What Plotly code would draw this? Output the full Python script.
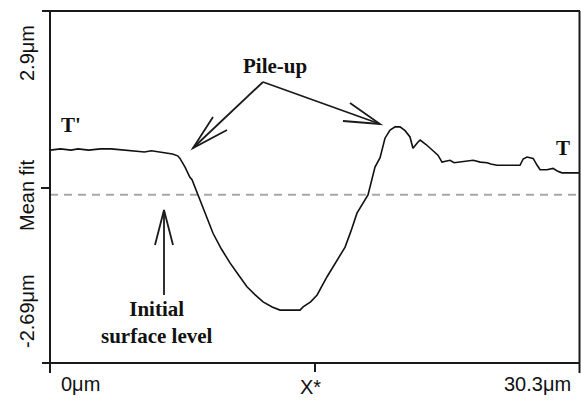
import plotly.graph_objects as go

# ---- data (micrometres) ----
X_UM = [0.0, 0.6, 1.2, 1.6, 2.2, 2.9, 3.5, 4.3, 5.0, 5.4, 5.8, 6.2, 6.6, 7.0, 7.3,
        7.43, 7.72, 8.0, 8.12, 8.46, 8.9, 9.32, 9.8, 10.29, 10.8, 11.26, 11.7,
        12.18, 12.7, 13.15, 14.29, 14.47, 14.9, 15.27, 15.84, 16.3, 16.87, 17.2,
        17.55, 18.18, 18.58, 18.87, 19.15, 19.44, 19.73, 20.01, 20.3, 20.58,
        20.75, 21.04, 21.16, 21.5, 21.73, 21.9, 22.18, 22.41, 22.87, 23.1, 23.44,
        24.19, 24.6, 24.99, 25.2, 25.56, 26.87, 27.05, 27.27, 27.62, 27.85,
        28.02, 28.4, 28.76, 29.0, 29.27, 30.3]
Y_UM = [0.69, 0.71, 0.69, 0.71, 0.69, 0.71, 0.71, 0.69, 0.67, 0.66, 0.68, 0.66,
        0.64, 0.63, 0.60, 0.56, 0.42, 0.26, 0.22, -0.02, -0.32, -0.63, -0.88,
        -1.10, -1.30, -1.48, -1.60, -1.72, -1.80, -1.85, -1.85, -1.80, -1.72,
        -1.61, -1.32, -1.10, -0.85, -0.60, -0.31, -0.02, 0.42, 0.57, 0.88, 1.01,
        1.06, 1.06, 1.00, 0.90, 0.72, 0.82, 0.85, 0.78, 0.72, 0.69, 0.61, 0.50,
        0.53, 0.49, 0.50, 0.53, 0.50, 0.49, 0.47, 0.45, 0.45, 0.55, 0.58, 0.56,
        0.45, 0.38, 0.38, 0.40, 0.36, 0.33, 0.33]

X_RANGE = [0.0, 30.3]
Y_RANGE = [-2.69, 2.9]
SURFACE_LEVEL = -0.02
MEAN_FIT = 0.09
X_MID = 15.15
Y_TICK_LABELS = ["2.9μm", "Mean fit", "-2.69μm"]
X_TICK_LABELS = ["0μm", "X*", "30.3μm"]
NOTE_LABELS = ["T'", "T", "Pile-up", "Initial<br>surface level"]

W, H = 581, 400
ML, MR, MT, MB = 50, 1, 11, 37
PW, PH = W - ML - MR, H - MT - MB


def px(xp):
    return (xp - ML) / PW


def py(yp):
    return (H - MB - yp) / PH


fig = go.Figure()
fig.add_trace(go.Scatter(x=X_RANGE, y=[SURFACE_LEVEL, SURFACE_LEVEL], mode="lines",
                         line=dict(color="#a8a8a8", width=2, dash="8px,6px"),
                         hoverinfo="skip"))
fig.add_trace(go.Scatter(x=X_UM, y=Y_UM, mode="lines",
                         line=dict(color="#111111", width=1.6)))

ink = "#1a1a1a"
frame = dict(color=ink, width=2)
shapes = [
    dict(type="line", xref="paper", yref="paper", x0=px(42), x1=px(580), y0=py(11), y1=py(11),
         line=frame, layer="above"),
    dict(type="line", xref="paper", yref="paper", x0=px(42), x1=px(580), y0=py(363), y1=py(363),
         line=frame, layer="above"),
    dict(type="line", xref="paper", yref="paper", x0=px(50), x1=px(50), y0=py(11), y1=py(373),
         line=frame, layer="above"),
    dict(type="line", xref="paper", yref="paper", x0=px(579.5), x1=px(579.5), y0=py(11), y1=py(373),
         line=frame, layer="above"),
]


def arrow(points, width=1.8):
    d = "M " + " L ".join(f"{px(a)},{py(b)}" for a, b in points)
    return dict(type="path", xref="paper", yref="paper", path=d,
                line=dict(color=ink, width=width), layer="above")


# Pile-up arrows
shapes.append(arrow([(263, 82), (193, 148)]))
shapes.append(arrow([(213, 117), (193, 148), (227, 130)]))
shapes.append(arrow([(263, 82), (380, 124)]))
shapes.append(arrow([(350, 103), (380, 124), (343, 121)]))
# Initial surface level arrow
shapes.append(arrow([(164, 295), (164, 210)]))
shapes.append(arrow([(155, 245), (164, 210), (173, 245)]))

sans = dict(family="Liberation Sans, Arial, sans-serif", size=20, color="#111")
serif = dict(family="Liberation Serif, Times New Roman, serif", size=21, color="#111")

ann = []
ann.append(dict(x=px(27), y=py(53), text=Y_TICK_LABELS[0], textangle=-90, font=sans))
ann.append(dict(x=px(27), y=py(195), text=Y_TICK_LABELS[1], textangle=-90, font=sans))
ann.append(dict(x=px(27), y=py(311), text=Y_TICK_LABELS[2], textangle=-90, font=sans))
ann.append(dict(x=px(59), y=py(384), text=X_TICK_LABELS[0], xanchor="left", font=sans))
ann.append(dict(x=px(310), y=py(387), text=X_TICK_LABELS[1], font=sans))
ann.append(dict(x=px(573), y=py(384), text=X_TICK_LABELS[2], xanchor="right", font=sans))
ann.append(dict(x=px(71), y=py(125), text="<b>" + NOTE_LABELS[0] + "</b>", font=serif))
ann.append(dict(x=px(563), y=py(148), text="<b>" + NOTE_LABELS[1] + "</b>", font=serif))
ann.append(dict(x=px(275), y=py(66), text="<b>" + NOTE_LABELS[2] + "</b>", font=serif))
ann.append(dict(x=px(157), y=py(322), text="<b>" + NOTE_LABELS[3] + "</b>", font=serif))
for a in ann:
    a.update(xref="paper", yref="paper", showarrow=False)
    a.setdefault("xanchor", "center")
    a.setdefault("yanchor", "middle")

fig.update_layout(
    width=W, height=H,
    margin=dict(l=ML, r=MR, t=MT, b=MB),
    paper_bgcolor="white", plot_bgcolor="white",
    showlegend=False,
    xaxis=dict(range=X_RANGE, showgrid=False, zeroline=False, showline=False,
               ticks="outside", tickvals=[X_MID], ticklen=8, tickwidth=2,
               tickcolor=ink, showticklabels=False, fixedrange=True),
    yaxis=dict(range=Y_RANGE, showgrid=False, zeroline=False, showline=False,
               ticks="outside", tickvals=[MEAN_FIT], ticklen=8, tickwidth=2,
               tickcolor=ink, showticklabels=False, fixedrange=True),
    shapes=shapes,
    annotations=ann,
)
fig.write_html(
    "out.html",
    config={"displayModeBar": False},
    post_script="document.body.style.margin='0';document.body.style.padding='0';"
                "document.body.style.overflow='hidden';",
)
